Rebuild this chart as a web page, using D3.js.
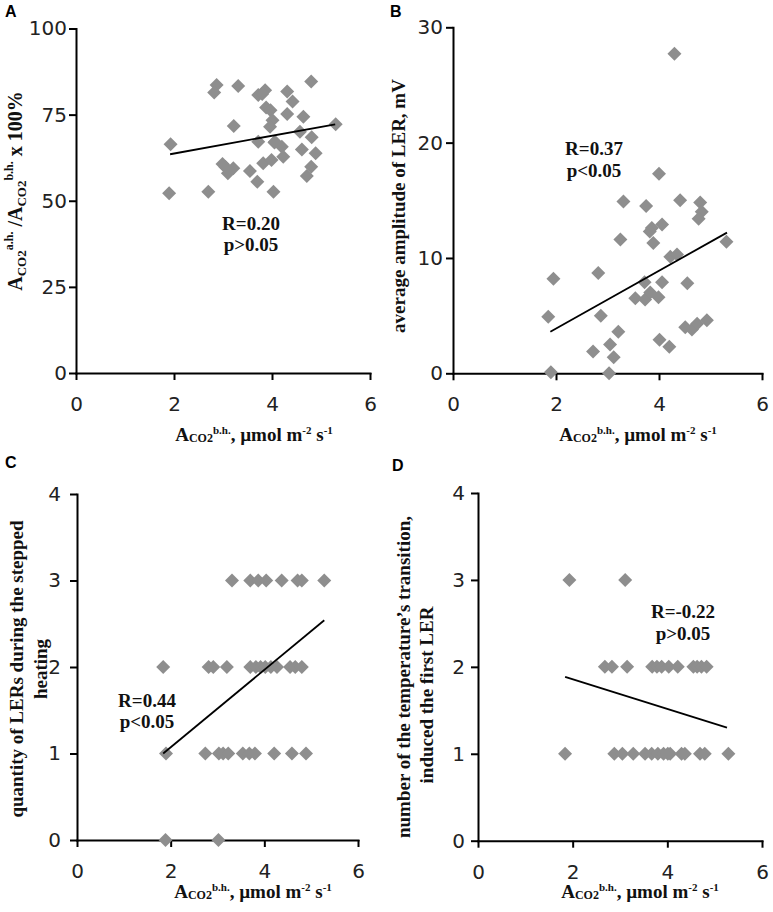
<!DOCTYPE html>
<html><head><meta charset="utf-8">
<script src="https://cdn.jsdelivr.net/npm/d3@7"></script>
<style>body{margin:0;background:#fff}</style>
</head><body>
<svg id="c" width="773" height="912" xmlns="http://www.w3.org/2000/svg"></svg>
<script>
// ---------- data ----------
const xTicks = [0, 2, 4, 6];
const yTicksA = [0, 25, 50, 75, 100];
const yTicksB = [0, 10, 20, 30];
const yTicksC = [0, 1, 2, 3, 4];
const yTicksD = [0, 1, 2, 3, 4];

const dataA = [[1.93,66.4],[1.90,52.2],[2.70,52.6],[2.87,83.6],[2.82,81.4],[3.31,83.3],[3.22,71.7],[2.99,60.7],[3.10,58.0],[3.21,59.4],[3.05,59.8],[3.55,58.6],[3.70,55.5],[3.72,67.1],[3.72,80.7],[3.86,82.1],[3.82,60.9],[3.88,77.1],[3.97,76.3],[4.01,73.4],[3.96,71.5],[3.99,61.8],[4.03,52.6],[4.06,67.1],[4.20,65.7],[4.23,62.8],[4.31,81.7],[4.42,78.8],[4.31,75.2],[4.64,74.4],[4.57,70.0],[4.61,64.9],[4.80,84.6],[4.81,68.4],[4.89,63.8],[4.80,59.9],[4.71,57.2],[5.30,72.2],[4.05,66.9],[3.80,81.0]];
const dataB = [[4.30,27.7],[4.00,17.3],[3.31,14.9],[3.75,14.5],[4.41,15.0],[4.80,14.8],[4.83,14.0],[4.77,13.4],[3.86,12.6],[4.06,12.9],[3.82,12.3],[3.89,11.3],[3.25,11.6],[5.31,11.4],[4.22,10.1],[4.35,10.3],[1.95,8.2],[2.82,8.7],[3.72,7.9],[4.06,7.9],[4.55,7.8],[3.54,6.5],[3.73,6.4],[3.83,7.0],[3.99,6.6],[1.85,4.9],[2.87,5.0],[4.51,4.0],[4.64,3.8],[4.74,4.3],[4.93,4.6],[3.21,3.6],[3.05,2.5],[3.12,1.4],[2.72,1.9],[4.01,2.9],[4.20,2.3],[1.90,0.1],[3.03,0.0]];
const cRow3 = [3.31,3.70,3.87,4.04,4.37,4.71,4.80,5.28];
const cRow2 = [1.84,2.81,2.91,3.20,3.70,3.82,3.92,4.02,4.14,4.27,4.55,4.66,4.80];
const cRow1 = [1.90,2.74,3.03,3.12,3.23,3.54,3.68,3.80,4.21,4.59,4.89];
const cRow0 = [1.89,3.02];
const dRow3 = [1.93,3.11];
const dRow2 = [2.68,2.83,3.15,3.68,3.78,3.88,4.03,4.22,4.55,4.63,4.72,4.83];
const dRow1 = [1.84,2.88,3.05,3.28,3.53,3.67,3.80,3.92,4.01,4.06,4.30,4.37,4.69,4.79,5.29];
const dataC = [...cRow3.map(v=>[v,3]),...cRow2.map(v=>[v,2]),...cRow1.map(v=>[v,1]),...cRow0.map(v=>[v,0])];
const dataD = [...dRow3.map(v=>[v,3]),...dRow2.map(v=>[v,2]),...dRow1.map(v=>[v,1])];

const fitA = [[1.92,63.5],[5.29,72.2]];
const fitB = [[1.89,3.6],[5.32,12.2]];
const fitC = [[1.84,1.0],[5.28,2.54]];
const fitD = [[1.84,1.885],[5.26,1.30]];

const statA = ["R=0.20","p>0.05"];
const statB = ["R=0.37","p<0.05"];
const statC = ["R=0.44","p<0.05"];
const statD = ["R=-0.22","p>0.05"];

// ---------- drawing ----------
const svg = d3.select('#c');
const SERIF = '"Liberation Serif","Times New Roman",serif';
const SANS = '"DejaVu Sans",sans-serif';

function rich(textSel, parts){
  let cur = 0;
  parts.forEach(([t, fs, off]) => {
    textSel.append('tspan').attr('font-size', fs).attr('dy', off - cur).text(t);
    cur = off;
  });
}

const xLabelParts = [["A",19,0],["CO2",12,1],["b.h.",11,-7],[", µmol m",19,0],["-2",11,-7],[" s",19,0],["-1",11,-7]];

function panel(cfg){
  const x = d3.scaleLinear().domain([0,6]).range([cfg.x0,cfg.x1]);
  const y = d3.scaleLinear().domain([0,cfg.ymax]).range([cfg.yb,cfg.yt]);
  const g = svg.append('g');

  const ax = g.append('g').attr('transform',`translate(0,${cfg.yb})`)
    .call(d3.axisBottom(x).tickValues(xTicks).tickFormat(d3.format('d')).tickSize(7).tickSizeOuter(0).tickPadding(17));
  const ay = g.append('g').attr('transform',`translate(${cfg.x0},0)`)
    .call(d3.axisLeft(y).tickValues(cfg.yticks).tickFormat(d3.format('d')).tickSize(7).tickSizeOuter(0).tickPadding(cfg.pad));
  [ax, ay].forEach(a => {
    a.attr('font-family', SANS).attr('font-size', 20);
    a.selectAll('path.domain').attr('stroke','#000').attr('stroke-width',2).attr('stroke-linecap','square');
    a.selectAll('.tick line').attr('stroke','#000').attr('stroke-width',2);
    a.selectAll('.tick text').attr('fill','#222');
  });

  const r = 7;
  g.selectAll('path.pt').data(cfg.data).join('path')
    .attr('class','pt')
    .attr('d', d => `M${x(d[0])},${y(d[1])-r}L${x(d[0])+r},${y(d[1])}L${x(d[0])},${y(d[1])+r}L${x(d[0])-r},${y(d[1])}Z`)
    .attr('fill','#8e8e8e');

  g.append('line')
    .attr('x1', x(cfg.fit[0][0])).attr('y1', y(cfg.fit[0][1]))
    .attr('x2', x(cfg.fit[1][0])).attr('y2', y(cfg.fit[1][1]))
    .attr('stroke','#000').attr('stroke-width',1.8);

  cfg.stat.forEach((s,i) => {
    g.append('text').attr('x', cfg.sx).attr('y', cfg.sy[i])
      .attr('text-anchor','middle').attr('font-family',SERIF).attr('font-weight','bold')
      .attr('font-size',19).attr('fill','#111').text(s);
  });

  // panel letter
  g.append('text').attr('x',cfg.lx).attr('y',cfg.ly).attr('font-family','"Liberation Sans",Arial,sans-serif')
    .attr('font-weight','bold').attr('font-size',16).text(cfg.letter);

  // x label
  const xl = g.append('text').attr('x',cfg.xlx).attr('y',cfg.xly).attr('text-anchor','middle')
    .attr('font-family',SERIF).attr('font-weight','bold').attr('fill','#111');
  rich(xl, xLabelParts);

  // y label(s)
  cfg.ylab.forEach(l => {
    const t = g.append('text').attr('transform',`translate(${l.x},${l.y}) rotate(-90)`)
      .attr('text-anchor','middle').attr('font-family',SERIF).attr('font-weight','bold').attr('fill','#111');
    if (typeof l.t === 'string') t.attr('font-size',19).text(l.t);
    else rich(t, l.t);
  });
}

panel({letter:'A', lx:5, ly:17, x0:76, x1:370, yt:28.5, yb:373, ymax:100, yticks:yTicksA, pad:2,
  data:dataA, fit:fitA, stat:statA, sx:251, sy:[230,251], xlx:254, xly:441,
  ylab:[{x:22, y:191, t:[["A",20,0],["CO2",13,4],["a.h.",12,-9],[" /A",20,0],["CO2",13,4],["b.h.",12,-9],[" x 100%",20,0]]}]});

panel({letter:'B', lx:390, ly:17, x0:453, x1:762, yt:27.3, yb:373.3, ymax:30, yticks:yTicksB, pad:3,
  data:dataB, fit:fitB, stat:statB, sx:594, sy:[155,177], xlx:638, xly:441,
  ylab:[{x:405, y:206, t:"average amplitude of LER, mV"}]});

panel({letter:'C', lx:5, ly:468, x0:77, x1:358, yt:494, yb:840, ymax:4, yticks:yTicksC, pad:9,
  data:dataC, fit:fitC, stat:statC, sx:147, sy:[707,728], xlx:253, xly:898,
  ylab:[{x:23, y:669, t:"quantity of LERs during the stepped"},{x:47, y:669, t:"heating"}]});

panel({letter:'D', lx:392, ly:471, x0:478, x1:762, yt:493, yb:840.7, ymax:4, yticks:yTicksD, pad:6,
  data:dataD, fit:fitD, stat:statD, sx:683, sy:[618,640], xlx:640, xly:898,
  ylab:[{x:410, y:677, t:"number of the temperature\u2019s transition,"},{x:433, y:695, t:"induced the first LER"}]});
</script>
</body></html>
